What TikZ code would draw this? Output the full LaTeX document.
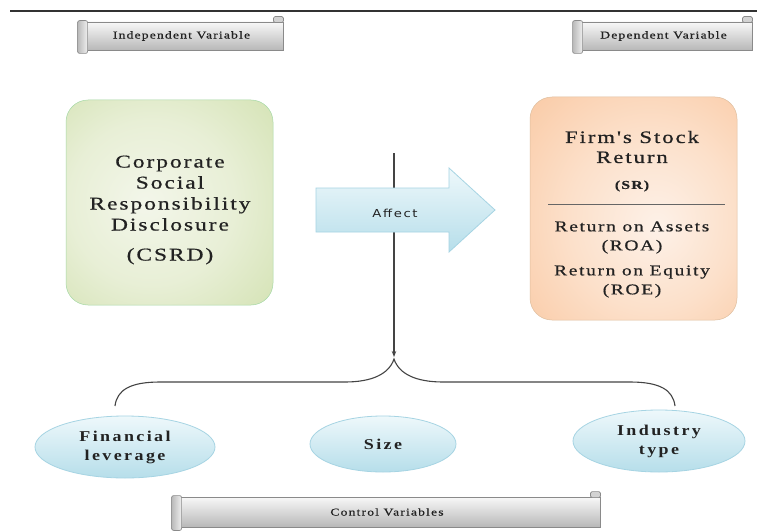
\documentclass[tikz,border=0pt]{standalone}
\usepackage{fontspec}
\usetikzlibrary{shapes.geometric,arrows.meta,calc}
\newfontfamily\dserif{Liberation Serif}[FakeStretch=1.3,LetterSpace=11,FakeBold=0.6]
\newfontfamily\dserifbold{Liberation Serif Bold}[FakeStretch=1.2,LetterSpace=16]
\newfontfamily\dsans{DejaVu Sans}[FakeStretch=1.2,LetterSpace=15]
\definecolor{txt}{HTML}{222222}
\definecolor{scrollline}{HTML}{8A8A8A}
\definecolor{scrolltop}{HTML}{F8F8F8}
\definecolor{scrollbot}{HTML}{B8B8B8}
\definecolor{blueline}{HTML}{A6D4E3}
\definecolor{bluetop}{HTML}{EEF8FB}
\definecolor{bluebot}{HTML}{B6DEEA}
\definecolor{linegray}{HTML}{444444}
\pgfdeclareradialshading{greenglow}{\pgfpoint{-6bp}{0bp}}{%
  color(0bp)=(rgb,255:red,243;green,246;blue,234);
  color(20bp)=(rgb,255:red,232;green,239;blue,214);
  color(45bp)=(rgb,255:red,205;green,222;blue,168);
  color(70bp)=(rgb,255:red,186;green,208;blue,136)}
\pgfdeclareradialshading{orangeglow}{\pgfpoint{6bp}{-4bp}}{%
  color(0bp)=(rgb,255:red,253;green,241;blue,232);
  color(20bp)=(rgb,255:red,252;green,224;blue,202);
  color(45bp)=(rgb,255:red,249;green,196;blue,155);
  color(70bp)=(rgb,255:red,246;green,178;blue,128)}
\begin{document}
\begin{tikzpicture}[x=1pt,y=-1pt,
  scrollbody/.style={draw=scrollline, line width=0.8pt, top color=scrolltop, bottom color=scrollbot,
     minimum height=28pt, inner sep=0pt, font=\dserif\fontsize{10.5}{12}\selectfont, text=txt},
  scrollroll/.style={draw=scrollline, line width=0.7pt, left color=gray!55, right color=gray!12, rounded corners=2pt},
  scrollcurl/.style={draw=scrollline, line width=0.7pt, fill=gray!35, rounded corners=1.5pt},
  bigbox/.style={rounded corners=22pt, line width=0.5pt},
  boxtext/.style={align=center, text=txt, inner sep=0pt},
  ctrl/.style={ellipse, draw=blueline, line width=0.8pt, top color=bluetop, bottom color=bluebot,
     align=center, text=txt, inner sep=0pt, font=\dserifbold\fontsize{15}{19}\selectfont},
  connector/.style={draw=linegray, line width=1.2pt},
]
\useasboundingbox (0,0) rectangle (757,532);
\fill[white] (0,0) rectangle (757,532);

% top rule
\coordinate (rulel) at (10,11);
\coordinate (ruler) at (757,11);
\draw[line width=1.5pt, black!80] (rulel) -- (ruler);

% scrolls
\node[scrollbody, minimum width=203pt] (ivlab) at (181.5,36) {Independent Variable};
\node[scrollbody, minimum width=177pt] (dvlab) at (663.5,36) {Dependent Variable};
\node[scrollbody, minimum width=426pt, minimum height=30pt] (cvlab) at (387,512) {Control Variables};
\foreach \s in {ivlab,dvlab,cvlab}{
  \draw[scrollroll] ($(\s.north west)+(-2,-1)$) rectangle ($(\s.south west)+(8,3)$);
  \draw[scrollcurl] ($(\s.north east)+(-10,-5)$) rectangle ($(\s.north east)+(0,1)$);
}

% green box
\node[bigbox, draw=green!40!gray!50, minimum width=207pt, minimum height=205pt, shading=greenglow] (csrdbox) at (169.5,202.5) {};
\node[boxtext, font=\dserif\fontsize{18}{21}\selectfont] (csrdtxt) at (170,210)
  {Corporate\\Social\\Responsibility\\Disclosure\\[9pt](CSRD)};

% orange box
\node[bigbox, draw=orange!50!gray!50, minimum width=207pt, minimum height=223pt, shading=orangeglow] (srbox) at (633.5,208.5) {};
\node[boxtext, font=\dserif\fontsize{17.5}{20}\selectfont] (srtitle) at (632,147) {Firm's Stock\\Return};
\node[boxtext, font=\dserif\bfseries\fontsize{12}{14}\selectfont] (srabbr) at (632,186) {(SR)};
\coordinate (sepl) at (548,204);
\coordinate (sepr) at (725,204);
\draw[line width=1pt, black!60] (sepl) -- (sepr);
\node[boxtext, font=\dserif\fontsize{15}{19}\selectfont] (roa) at (632,237.5) {Return on Assets\\(ROA)};
\node[boxtext, font=\dserif\fontsize{15}{19}\selectfont] (roe) at (632,281.5) {Return on Equity\\(ROE)};

% vertical connector
\coordinate (vtop) at (394,153);
\coordinate (vbot) at (394,357);
\draw[connector, -{Stealth[length=6pt,width=4.5pt]}] (vtop) -- (vbot);

% affect arrow
\draw[draw=blueline, line width=0.8pt, top color=bluetop, bottom color=bluebot]
  (316,188) -- (449,188) -- (449,168) -- (495,210) -- (449,252) -- (449,232) -- (316,232) -- cycle;
\node[text=txt, font=\dsans\fontsize{11}{12}\selectfont] (affect) at (395,213) {Affect};

% brace
\coordinate (bpeak) at (394,359);
\coordinate (bl) at (115,406);
\coordinate (br) at (675,406);
\draw[draw=linegray, line width=1.1pt] (bl) .. controls (117,390) and (130,382) .. (160,382) -- (345,382)
   .. controls (372,382) and (389,374) .. (bpeak)
   .. controls (399,374) and (416,382) .. (443,382) -- (630,382)
   .. controls (660,382) and (673,390) .. (br);

% control variable ellipses
\node[ctrl, minimum width=180pt, minimum height=62pt] (finlev) at (125,447) {Financial\\leverage};
\node[ctrl, minimum width=146pt, minimum height=56pt] (size) at (383,444) {Size};
\node[ctrl, minimum width=172pt, minimum height=62pt] (indtype) at (659,441) {Industry\\type};
\end{tikzpicture}
\end{document}
